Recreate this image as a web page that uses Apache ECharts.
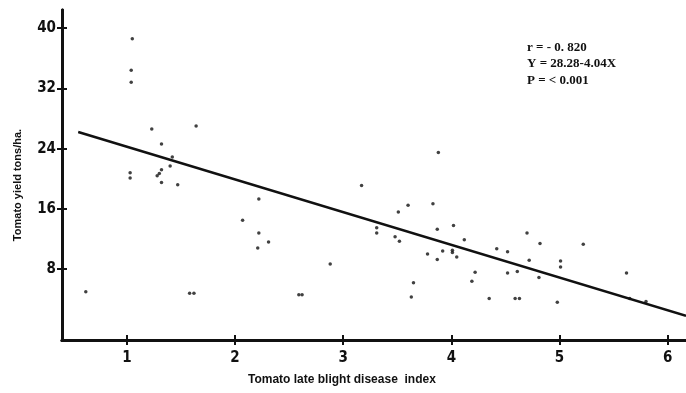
<!DOCTYPE html>
<html>
<head>
<meta charset="utf-8">
<script src="https://cdn.jsdelivr.net/npm/echarts@6/dist/echarts.min.js"></script>
<style>
  html, body { margin: 0; padding: 0; background: #fff; }
  #main { width: 686px; height: 393px; }
</style>
</head>
<body>
<div id="main"></div>
<script>
// disease index (x) and yield in tons/ha (y)
let diseaseIndex = [1.05, 1.04, 1.04, 1.23, 1.64, 1.32, 1.42, 1.40, 1.03, 1.03, 1.32, 1.30, 1.28, 1.32, 1.47,
    0.62, 1.58, 1.62, 2.22, 2.07, 2.22, 2.31, 2.21, 2.88, 2.59, 2.62,
    3.17, 3.51, 3.60, 3.83, 3.88, 3.31, 3.31, 3.48, 3.52, 3.87, 4.02, 3.78, 3.87, 3.92, 4.01, 4.01, 4.05,
    3.65, 3.63, 4.12, 4.22, 4.19, 4.35, 4.42, 4.52, 4.52, 4.61, 4.59, 4.63, 4.70, 4.72, 4.82, 4.81,
    4.98, 5.01, 5.01, 5.22, 5.62, 5.65, 5.80];
let yieldTons = [38.6, 34.4, 32.8, 26.6, 27.0, 24.6, 22.9, 21.7, 20.8, 20.1, 21.2, 20.7, 20.4, 19.5, 19.2,
    5.0, 4.8, 4.8, 17.3, 14.5, 12.8, 11.6, 10.8, 8.7, 4.6, 4.6,
    19.1, 15.6, 16.5, 16.7, 23.5, 13.5, 12.8, 12.3, 11.7, 13.3, 13.8, 10.0, 9.3, 10.4, 10.5, 10.2, 9.6,
    6.2, 4.3, 11.9, 7.6, 6.4, 4.1, 10.7, 10.3, 7.5, 7.7, 4.1, 4.1, 12.8, 9.2, 11.4, 6.9,
    3.6, 9.1, 8.3, 11.3, 7.5, 4.1, 3.7];

// regression line end points as drawn
let lineX = [0.55, 6.17];
let lineY = [26.2, 1.8];

let xTicks = [1, 2, 3, 4, 5, 6];
let yTicks = [8, 16, 24, 32, 40];

let points = diseaseIndex.map((x, i) => [x, yieldTons[i]]);
let linePoints = lineX.map((x, i) => [x, lineY[i]]);

let ink = '#111';
let tickFont = {
    color: ink,
    fontFamily: 'Liberation Sans Narrow, DejaVu Sans Condensed, Liberation Sans, sans-serif',
    fontWeight: 'bold',
    fontSize: 15
};

// second copy of each axis only draws the inner half of the ticks
function xAxisOf(inside) {
    return {
        type: 'value',
        min: 0.4,
        max: 6.17,
        position: 'bottom',
        axisLine: { show: true, onZero: false, lineStyle: { color: ink, width: 3 } },
        axisTick: { show: true, inside: inside, length: 5, customValues: xTicks, lineStyle: { color: ink, width: 2 } },
        axisLabel: { show: !inside, customValues: xTicks, margin: 11, ...tickFont },
        splitLine: { show: false }
    };
}

function yAxisOf(inside) {
    return {
        type: 'value',
        min: -1.4,
        max: 42.4,
        position: 'left',
        offset: 0,
        axisLine: { show: true, onZero: false, lineStyle: { color: ink, width: 3 } },
        axisTick: { show: true, inside: inside, length: 5, customValues: yTicks, lineStyle: { color: ink, width: 2 } },
        axisLabel: { show: !inside, customValues: yTicks, margin: 6, ...tickFont },
        splitLine: { show: false }
    };
}

let option = {
    backgroundColor: '#fff',
    animation: false,
    grid: { left: 62, right: 0, top: 10, bottom: 53, containLabel: false, outerBoundsMode: 'none' },
    xAxis: [xAxisOf(false), xAxisOf(true)],
    yAxis: [yAxisOf(false), yAxisOf(true)],
    graphic: [
        {
            type: 'text', left: 248, top: 374,
            style: { text: 'Tomato late blight disease  index', fill: ink, font: 'bold 12px Liberation Sans, Arial, sans-serif' }
        },
        {
            type: 'text', x: 18, y: 185, rotation: Math.PI / 2,
            style: { text: 'Tomato yield tons/ha.', fill: ink, align: 'center', verticalAlign: 'middle', font: 'bold 11px Liberation Sans, Arial, sans-serif' }
        },
        {
            type: 'text', left: 527, top: 39,
            style: {
                text: 'r = - 0. 820\nY = 28.28-4.04X\nP = < 0.001',
                fill: ink, lineHeight: 16.5,
                font: 'bold 13px Liberation Serif, Times New Roman, serif'
            }
        }
    ],
    series: [
        {
            type: 'scatter',
            data: points,
            symbol: 'circle',
            symbolSize: 3.5,
            itemStyle: { color: ink }
        },
        {
            type: 'line',
            data: linePoints,
            symbol: 'none',
            lineStyle: { color: ink, width: 2.5 }
        }
    ]
};

let chart = echarts.init(document.getElementById('main'));
chart.setOption(option);
</script>
</body>
</html>
